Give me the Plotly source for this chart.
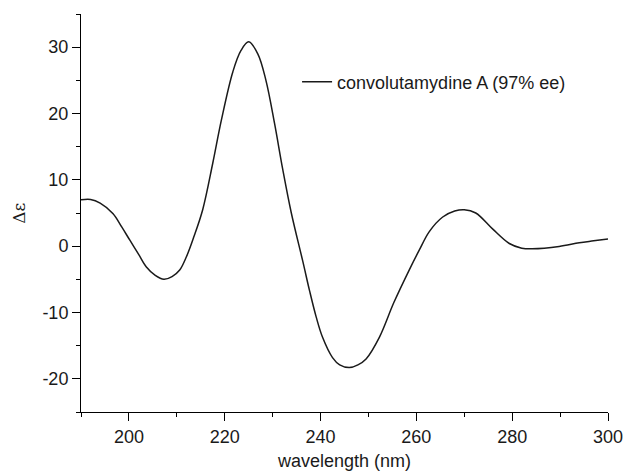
import plotly.graph_objects as go

wavelength = [190, 192, 194, 196.7, 198.5, 200.2, 202, 203.6, 205.5, 207.3, 209, 210.6,
              212, 213.5, 215.4, 217.5, 219.3, 221.7, 223.4, 225.0, 226.9, 228.6, 230.4,
              232.1, 233.9, 236.3, 237.7, 239.1, 240.4, 242.5, 244, 246.0, 247.8, 249.5,
              252.3, 255.3, 258.5, 260.6, 262.7, 265.5, 268, 270.0, 272.4, 275.9, 279.4,
              282, 284.2, 289.8, 294.0, 297, 300]
delta_eps = [7.0, 7.05, 6.5, 4.9, 2.9, 0.9, -1.2, -3.1, -4.4, -5.0, -4.6, -3.6,
             -1.6, 1.3, 5.5, 12.5, 19.0, 26.3, 29.5, 30.8, 29.0, 25.0, 18.5,
             11.6, 5.0, -2.3, -6.7, -10.7, -13.7, -16.8, -17.9, -18.3, -17.9, -17.0,
             -13.7, -8.5, -3.6, -0.6, 2.2, 4.4, 5.3, 5.5, 5.0, 2.6, 0.4,
             -0.3, -0.4, -0.05, 0.5, 0.8, 1.1]
series_name = "convolutamydine A (97% ee)"
x_ticks = [200, 220, 240, 260, 280, 300]
x_tick_labels = ["200", "220", "240", "260", "280", "300"]
y_ticks = [-20, -10, 0, 10, 20, 30]
y_tick_labels = ["-20", "-10", "0", "10", "20", "30"]

font_family = "Liberation Sans, Arial, sans-serif"

fig = go.Figure()
fig.add_trace(go.Scatter(
    x=wavelength, y=delta_eps, mode="lines", name=series_name,
    line=dict(color="#1a1a1a", width=1.5, shape="spline", smoothing=1.0),
    hoverinfo="skip",
))

fig.update_layout(
    width=624, height=472,
    margin=dict(l=81, r=16, t=14, b=60, autoexpand=False),
    paper_bgcolor="white", plot_bgcolor="white",
    font=dict(family=font_family, size=18, color="#1a1a1a"),
    showlegend=True,
    legend=dict(x=0.41, y=0.829, xanchor="left", yanchor="middle",
                bgcolor="rgba(0,0,0,0)", font=dict(size=18), itemwidth=30),
    xaxis=dict(
        range=[190, 300], tickvals=x_ticks, ticktext=x_tick_labels,
        ticks="outside", ticklen=8, tickwidth=1, automargin=False,
        ticklabeloverflow="allow",
        tickcolor="black", showline=True, linecolor="black", linewidth=1,
        showgrid=False, zeroline=False,
        minor=dict(dtick=10, ticks="outside", ticklen=4, tickcolor="black", tick0=190),
        title=dict(text="wavelength (nm)", font=dict(size=18), standoff=8),
    ),
    yaxis=dict(
        range=[-25, 35], tickvals=y_ticks, ticktext=y_tick_labels,
        ticks="outside", ticklen=8, tickwidth=1, automargin=False,
        tickcolor="black", showline=True, linecolor="black", linewidth=1,
        showgrid=False, zeroline=False,
        minor=dict(dtick=5, ticks="outside", ticklen=4, tickcolor="black", tick0=-25),
    ),
    annotations=[dict(text="Δε", xref="paper", yref="paper", x=-0.118, y=0.5,
                      showarrow=False, textangle=-90,
                      font=dict(size=17, family="DejaVu Serif, serif", color="#1a1a1a"),
                      xanchor="center", yanchor="middle")],
)

fig.write_html("out.html", config={"displayModeBar": False, "staticPlot": True},
               post_script="document.body.style.margin='0';document.body.style.overflow='hidden';")
